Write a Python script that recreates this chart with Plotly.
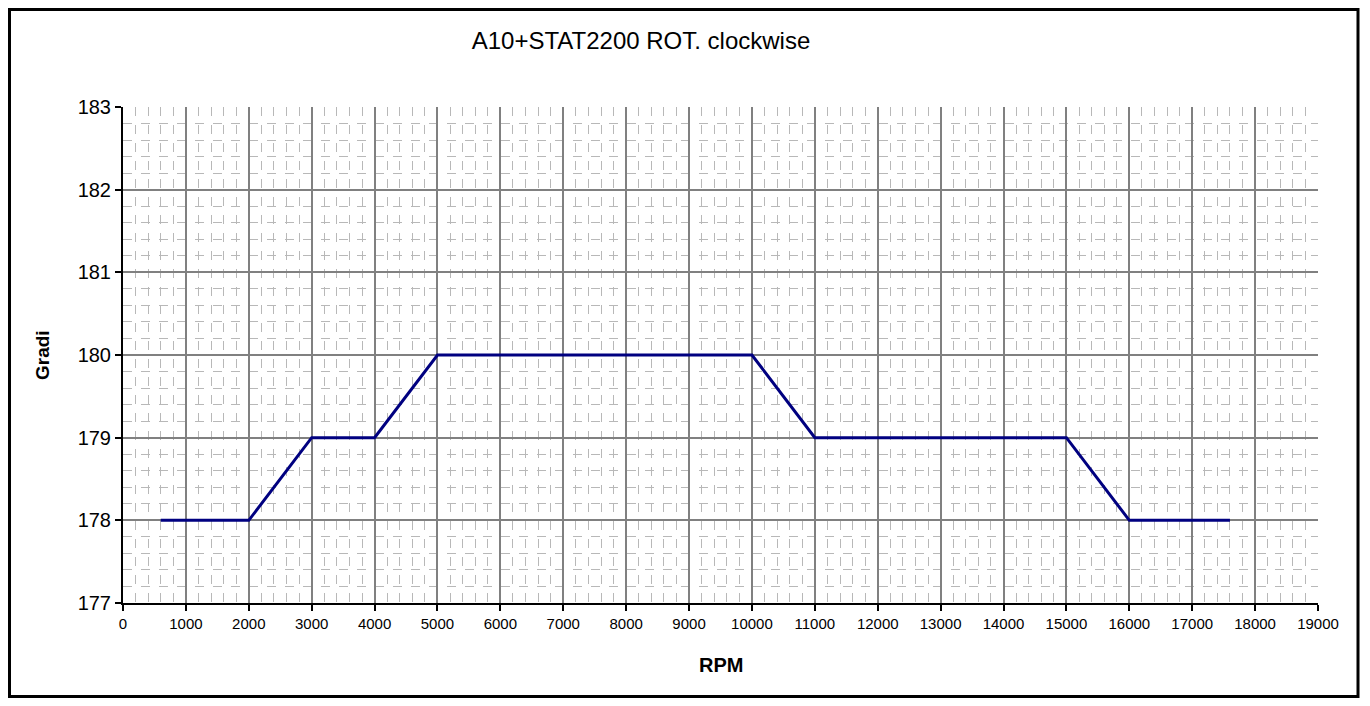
import plotly.graph_objects as go

# RPM vs angle (Gradi)
rpm = [600, 2000, 3000, 4000, 5000, 10000, 11000, 15000, 16000, 17600]
gradi = [178, 178, 179, 179, 180, 180, 179, 179, 178, 178]

x_ticks = list(range(0, 19001, 1000))
y_ticks = [177, 178, 179, 180, 181, 182, 183]

# page body adds 8px margin, so the figure is sized to fit the window
W, H = 1354, 690
L, R, T, B = 115, 44, 99, 95
pw, ph = W - L - R, H - T - B

fig = go.Figure()
fig.add_trace(go.Scatter(x=rpm, y=gradi, mode='lines',
                         line=dict(color='#000080', width=3)))

fig.update_layout(
    width=W, height=H,
    margin=dict(l=L, r=R, t=T, b=B),
    paper_bgcolor='white', plot_bgcolor='white',
    showlegend=False,
    font=dict(family='Arial, Liberation Sans', color='black', size=15),
    title=dict(text='A10+STAT2200 ROT. clockwise', x=633 / W, xanchor='center',
               y=1 - 33 / H, yanchor='middle', font=dict(size=24)),
)

fig.update_xaxes(
    range=[0, 19000], tickvals=x_ticks, ticktext=[str(v) for v in x_ticks],
    showline=True, linecolor='black', linewidth=2,
    ticks='outside', ticklen=6, tickcolor='black', tickwidth=2,
    showgrid=True, gridcolor='#808080', gridwidth=2,
    zeroline=False,
    minor=dict(dtick=200, showgrid=True, gridcolor='#b8b8b8', griddash='dash', gridwidth=1),
    tickfont=dict(size=15),
)
fig.update_yaxes(
    range=[177, 183], tickvals=y_ticks,
    showline=True, linecolor='black', linewidth=2,
    ticks='outside', ticklen=6, tickcolor='black', tickwidth=2,
    showgrid=True, gridcolor='#808080', gridwidth=2,
    zeroline=False,
    minor=dict(dtick=0.2, showgrid=True, gridcolor='#b8b8b8', griddash='dash', gridwidth=1),
    tickfont=dict(size=20),
)

# axis titles
fig.add_annotation(text='<b>RPM</b>', xref='paper', yref='paper',
                   x=(713 - L) / pw, y=(H - B - 657) / ph,
                   xanchor='center', yanchor='middle', showarrow=False,
                   font=dict(size=20))
fig.add_annotation(text='<b>Gradi</b>', xref='paper', yref='paper',
                   x=(34 - L) / pw, y=0.5, textangle=-90,
                   xanchor='center', yanchor='middle', showarrow=False,
                   font=dict(size=19))

# outer chart border
fig.add_shape(type='rect', xref='paper', yref='paper',
              x0=(1.5 - L) / pw, x1=(1350 - L) / pw,
              y0=(H - B - 688.5) / ph, y1=(H - B - 1.5) / ph,
              line=dict(color='black', width=3))

fig.write_html('out.html')
